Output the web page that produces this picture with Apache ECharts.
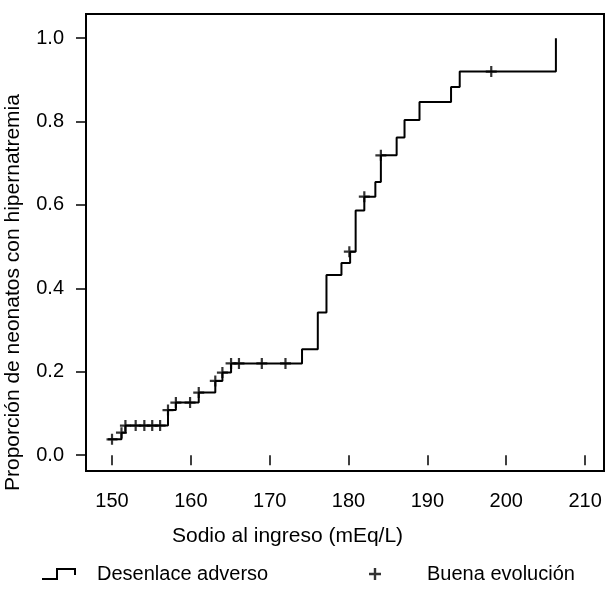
<!DOCTYPE html>
<html>
<head>
<meta charset="utf-8">
<script src="https://cdn.jsdelivr.net/npm/echarts@6/dist/echarts.min.js"></script>
<style>
html,body{margin:0;padding:0;background:#fff;}
#charts{width:610px;height:591px;}
</style>
</head>
<body>
<div id="charts"></div>
<script>
// eventos: [sodio, proporcion acumulada]
var eventSodio = [149.5, 151.2, 151.7, 157.1, 158.1, 161.0, 163.1, 164.0, 165.1, 174.1, 176.1, 177.2, 179.1, 180.2, 180.9, 182.0, 183.4, 184.1, 186.1, 187.1, 189.0, 193.0, 194.1, 206.3];
var eventProp = [0.038, 0.054, 0.071, 0.108, 0.126, 0.150, 0.178, 0.198, 0.220, 0.254, 0.342, 0.432, 0.461, 0.488, 0.587, 0.620, 0.655, 0.719, 0.762, 0.804, 0.847, 0.883, 0.920, 1.0];
// censurados (buena evolucion)
var censSodio = [150.0, 151.2, 151.7, 153.0, 154.1, 155.1, 156.1, 157.1, 158.1, 159.9, 161.0, 163.1, 164.0, 165.1, 166.1, 169.0, 172.0, 180.1, 182.0, 184.1, 198.1];
var censProp = [0.038, 0.054, 0.071, 0.071, 0.071, 0.071, 0.071, 0.108, 0.126, 0.126, 0.150, 0.178, 0.198, 0.220, 0.220, 0.220, 0.220, 0.488, 0.620, 0.719, 0.920];
var xTicks = [150, 160, 170, 180, 190, 200, 210];
var yTicks = [0, 0.2, 0.4, 0.6, 0.8, 1.0];

var plusPath = 'path://M4,0H6V4H10V6H6V10H4V6H0V4H4Z';
var stepPath = 'path://M0,10H14V0H34V7H32V2H16V12H0Z';
var fontFam = '"Liberation Sans", Arial, sans-serif';

function pairs(xs, ys){
	var out = [];
	for(var i=0;i<xs.length;i++){
		out.push([xs[i], ys[i]]);
	}
	return out;
}

function drawCharts(){
	var charts = echarts.init(document.getElementById('charts'));
	var options = {
		animation: false,
		grid: {
			left: 86, right: 6, top: 14, bottom: 120,
			show: true,
			borderColor: '#000',
			borderWidth: 2,
			backgroundColor: 'transparent'
		},
		xAxis: {
			type: 'value',
			min: 146.7,
			max: 212.4,
			axisLine: {show: false},
			splitLine: {show: false},
			axisTick: {
				show: true, length: 10, customValues: xTicks,
				lineStyle: {color: '#000', width: 1.5}
			},
			axisLabel: {
				customValues: xTicks,
				margin: 20,
				color: '#000',
				fontSize: 20,
				fontFamily: fontFam
			}
		},
		yAxis: {
			type: 'value',
			min: -0.038,
			max: 1.058,
			axisLine: {show: false},
			splitLine: {show: false},
			axisTick: {
				show: true, length: 10, customValues: yTicks,
				lineStyle: {color: '#000', width: 1.5}
			},
			axisLabel: {
				customValues: yTicks,
				margin: 22,
				color: '#000',
				fontSize: 20,
				fontFamily: fontFam,
				formatter: function(v){ return v.toFixed(1); }
			}
		},
		legend: [{
			data: [{name: 'Desenlace adverso', icon: stepPath}],
			left: 42, top: 564, padding: 0,
			itemWidth: 34, itemHeight: 12,
			textStyle: {fontSize: 20, color: '#000', fontFamily: fontFam, padding: [0, 0, 0, 16]}
		}, {
			data: [{name: 'Buena evolución', icon: plusPath}],
			left: 369, top: 564, padding: 0,
			itemWidth: 12, itemHeight: 12,
			textStyle: {fontSize: 20, color: '#000', fontFamily: fontFam, padding: [0, 0, 0, 41]}
		}],
		graphic: [{
			type: 'text',
			x: 172, y: 526,
			style: {
				text: 'Sodio al ingreso (mEq/L)',
				font: '21px ' + fontFam,
				fill: '#000'
			}
		}, {
			type: 'text',
			x: 3, y: 491,
			rotation: Math.PI / 2,
			style: {
				text: 'Proporción de neonatos con hipernatremia',
				font: '21px ' + fontFam,
				fill: '#000'
			}
		}],
		series: [{
			name: 'Desenlace adverso',
			type: 'line',
			step: 'end',
			symbol: 'none',
			color: '#000',
			lineStyle: {color: '#000', width: 2},
			data: pairs(eventSodio, eventProp)
		}, {
			name: 'Buena evolución',
			type: 'scatter',
			symbol: plusPath,
			symbolSize: 11,
			color: '#000',
			itemStyle: {color: '#000'},
			data: pairs(censSodio, censProp)
		}]
	};
	charts.setOption(options);
}
drawCharts();
</script>
</body>
</html>
